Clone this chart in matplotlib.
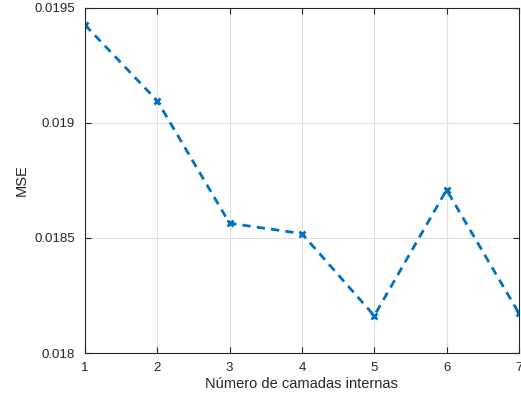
import matplotlib
matplotlib.use("Agg")
import matplotlib.pyplot as plt

# numero de camadas internas vs erro
camadas = [1, 2, 3, 4, 5, 6, 7]
mse = [0.019426, 0.019096, 0.018564, 0.018519, 0.018162, 0.018709, 0.018173]

plt.rcParams['font.family'] = ['Liberation Sans', 'DejaVu Sans']
txt = '#262626'

fig = plt.figure(figsize=(5.21, 3.94), dpi=100)
ax = fig.add_axes([0.163, 0.104, 0.833, 0.876])

ax.plot(camadas, mse, linestyle='--', color='#0072BD', linewidth=2,
        marker='x', markersize=5, markeredgewidth=2, dashes=(3, 2.2))

ax.set_xlim(1, 7)
ax.set_ylim(0.018, 0.0195)
ax.set_xticks(camadas)
ax.set_yticks([0.018, 0.0185, 0.019, 0.0195])
ax.set_yticklabels(['0.018', '0.0185', '0.019', '0.0195'])
ax.grid(True, color='#dfdfdf', linewidth=0.8)
ax.set_axisbelow(True)
ax.tick_params(direction='in', top=True, right=True, length=4, colors=txt,
               labelsize=9.5, labelcolor=txt)
ax.tick_params(axis='y', pad=7)
ax.tick_params(axis='x', pad=6.5)
for s in ax.spines.values():
    s.set_color(txt)
    s.set_linewidth(0.8)

ax.set_xlabel('Número de camadas internas', fontsize=10.5, color=txt, labelpad=2)
ax.set_ylabel('MSE', fontsize=10.5, color=txt, labelpad=4)

fig.savefig('out.png', dpi=100)
